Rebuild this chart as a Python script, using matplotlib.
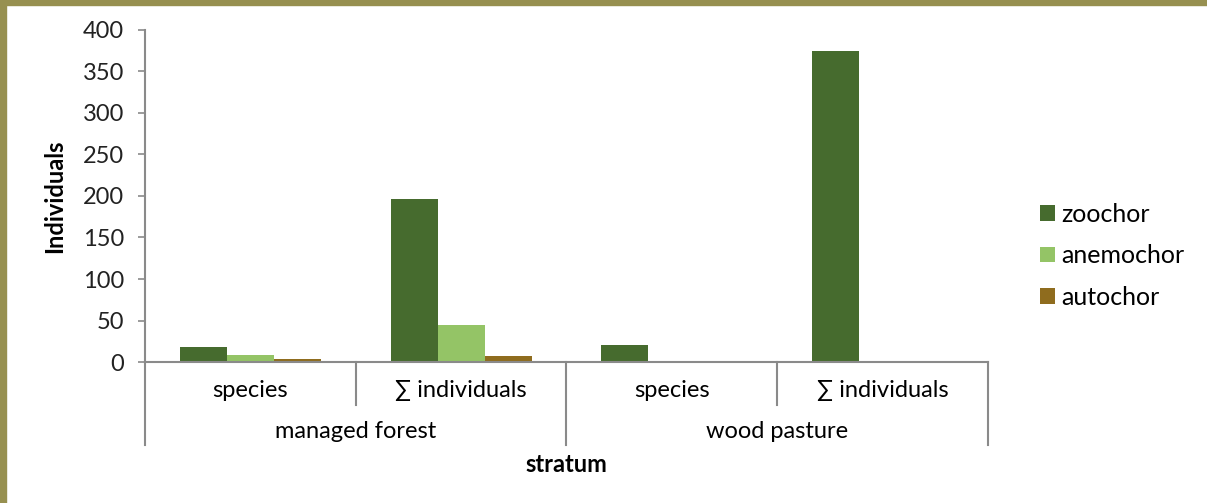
import matplotlib.pyplot as plt
import numpy as np
from matplotlib.patches import Rectangle

plt.rcParams['font.family'] = ['Lato', 'DejaVu Sans']

# seed dispersal types per stratum
sub_labels = ['species', '\u2211 individuals', 'species', '\u2211 individuals']
group_labels = ['managed forest', 'wood pasture']
zoochor = [18, 196, 21, 375]
anemochor = [8, 45, 0, 0]
autochor = [4, 7, 0, 0]

colors = ['#466b2e', '#94c466', '#8f6c1e']
names = ['zoochor', 'anemochor', 'autochor']
series = [zoochor, anemochor, autochor]

fig = plt.figure(figsize=(12.07, 5.03), dpi=100)
ax = fig.add_axes([0.120, 0.2803, 0.6986, 0.6601])

x = np.arange(len(sub_labels))
w = 0.223
for i, (vals, c, n) in enumerate(zip(series, colors, names)):
    ax.bar(x + (i - 1) * w, vals, width=w, color=c, label=n)

ax.set_xlim(-0.5, len(sub_labels) - 0.5)
ax.set_ylim(0, 400)
ax.set_yticks(np.arange(0, 401, 50))
ax.tick_params(axis='y', labelsize=17, colors='#8a8a8a', labelcolor='#222222',
               length=5, width=1.2, pad=10)
ax.set_xticks([])
for s in ['top', 'right']:
    ax.spines[s].set_visible(False)
for s in ['left', 'bottom']:
    ax.spines[s].set_color('#8a8a8a')
    ax.spines[s].set_linewidth(1.5)

ax.set_ylabel('Individuals', fontsize=17, fontweight='bold', labelpad=12)

# two-level category axis below the plot
tr = ax.get_xaxis_transform()
for xb, depth in [(-0.5, -0.25), (0.5, -0.13), (1.5, -0.25), (2.5, -0.13), (3.5, -0.25)]:
    ax.plot([xb, xb], [0, depth], transform=tr, color='#8a8a8a', lw=1.5,
            clip_on=False)
for xi, lab in zip(x, sub_labels):
    ax.text(xi, -0.085, lab, transform=tr, ha='center', va='center', fontsize=17)
for gi, lab in enumerate(group_labels):
    ax.text(2 * gi + 0.5, -0.21, lab, transform=tr, ha='center', va='center',
            fontsize=17)
ax.text(1.5, -0.31, 'stratum', transform=tr, ha='center', va='center',
        fontsize=17, fontweight='bold')

ax.legend(loc='center left', bbox_to_anchor=(1.035, 0.32), frameon=False,
          fontsize=18, handlelength=0.6, handleheight=0.6, handletextpad=0.25,
          labelspacing=0.75)

# olive frame along top and left edges
fig.patches.append(Rectangle((0, 1 - 5 / 503), 1, 5 / 503, transform=fig.transFigure,
                             color='#979050', zorder=5))
fig.patches.append(Rectangle((0, 0), 6 / 1207, 1, transform=fig.transFigure,
                             color='#979050', zorder=5))

fig.savefig('out.png', dpi=100)
